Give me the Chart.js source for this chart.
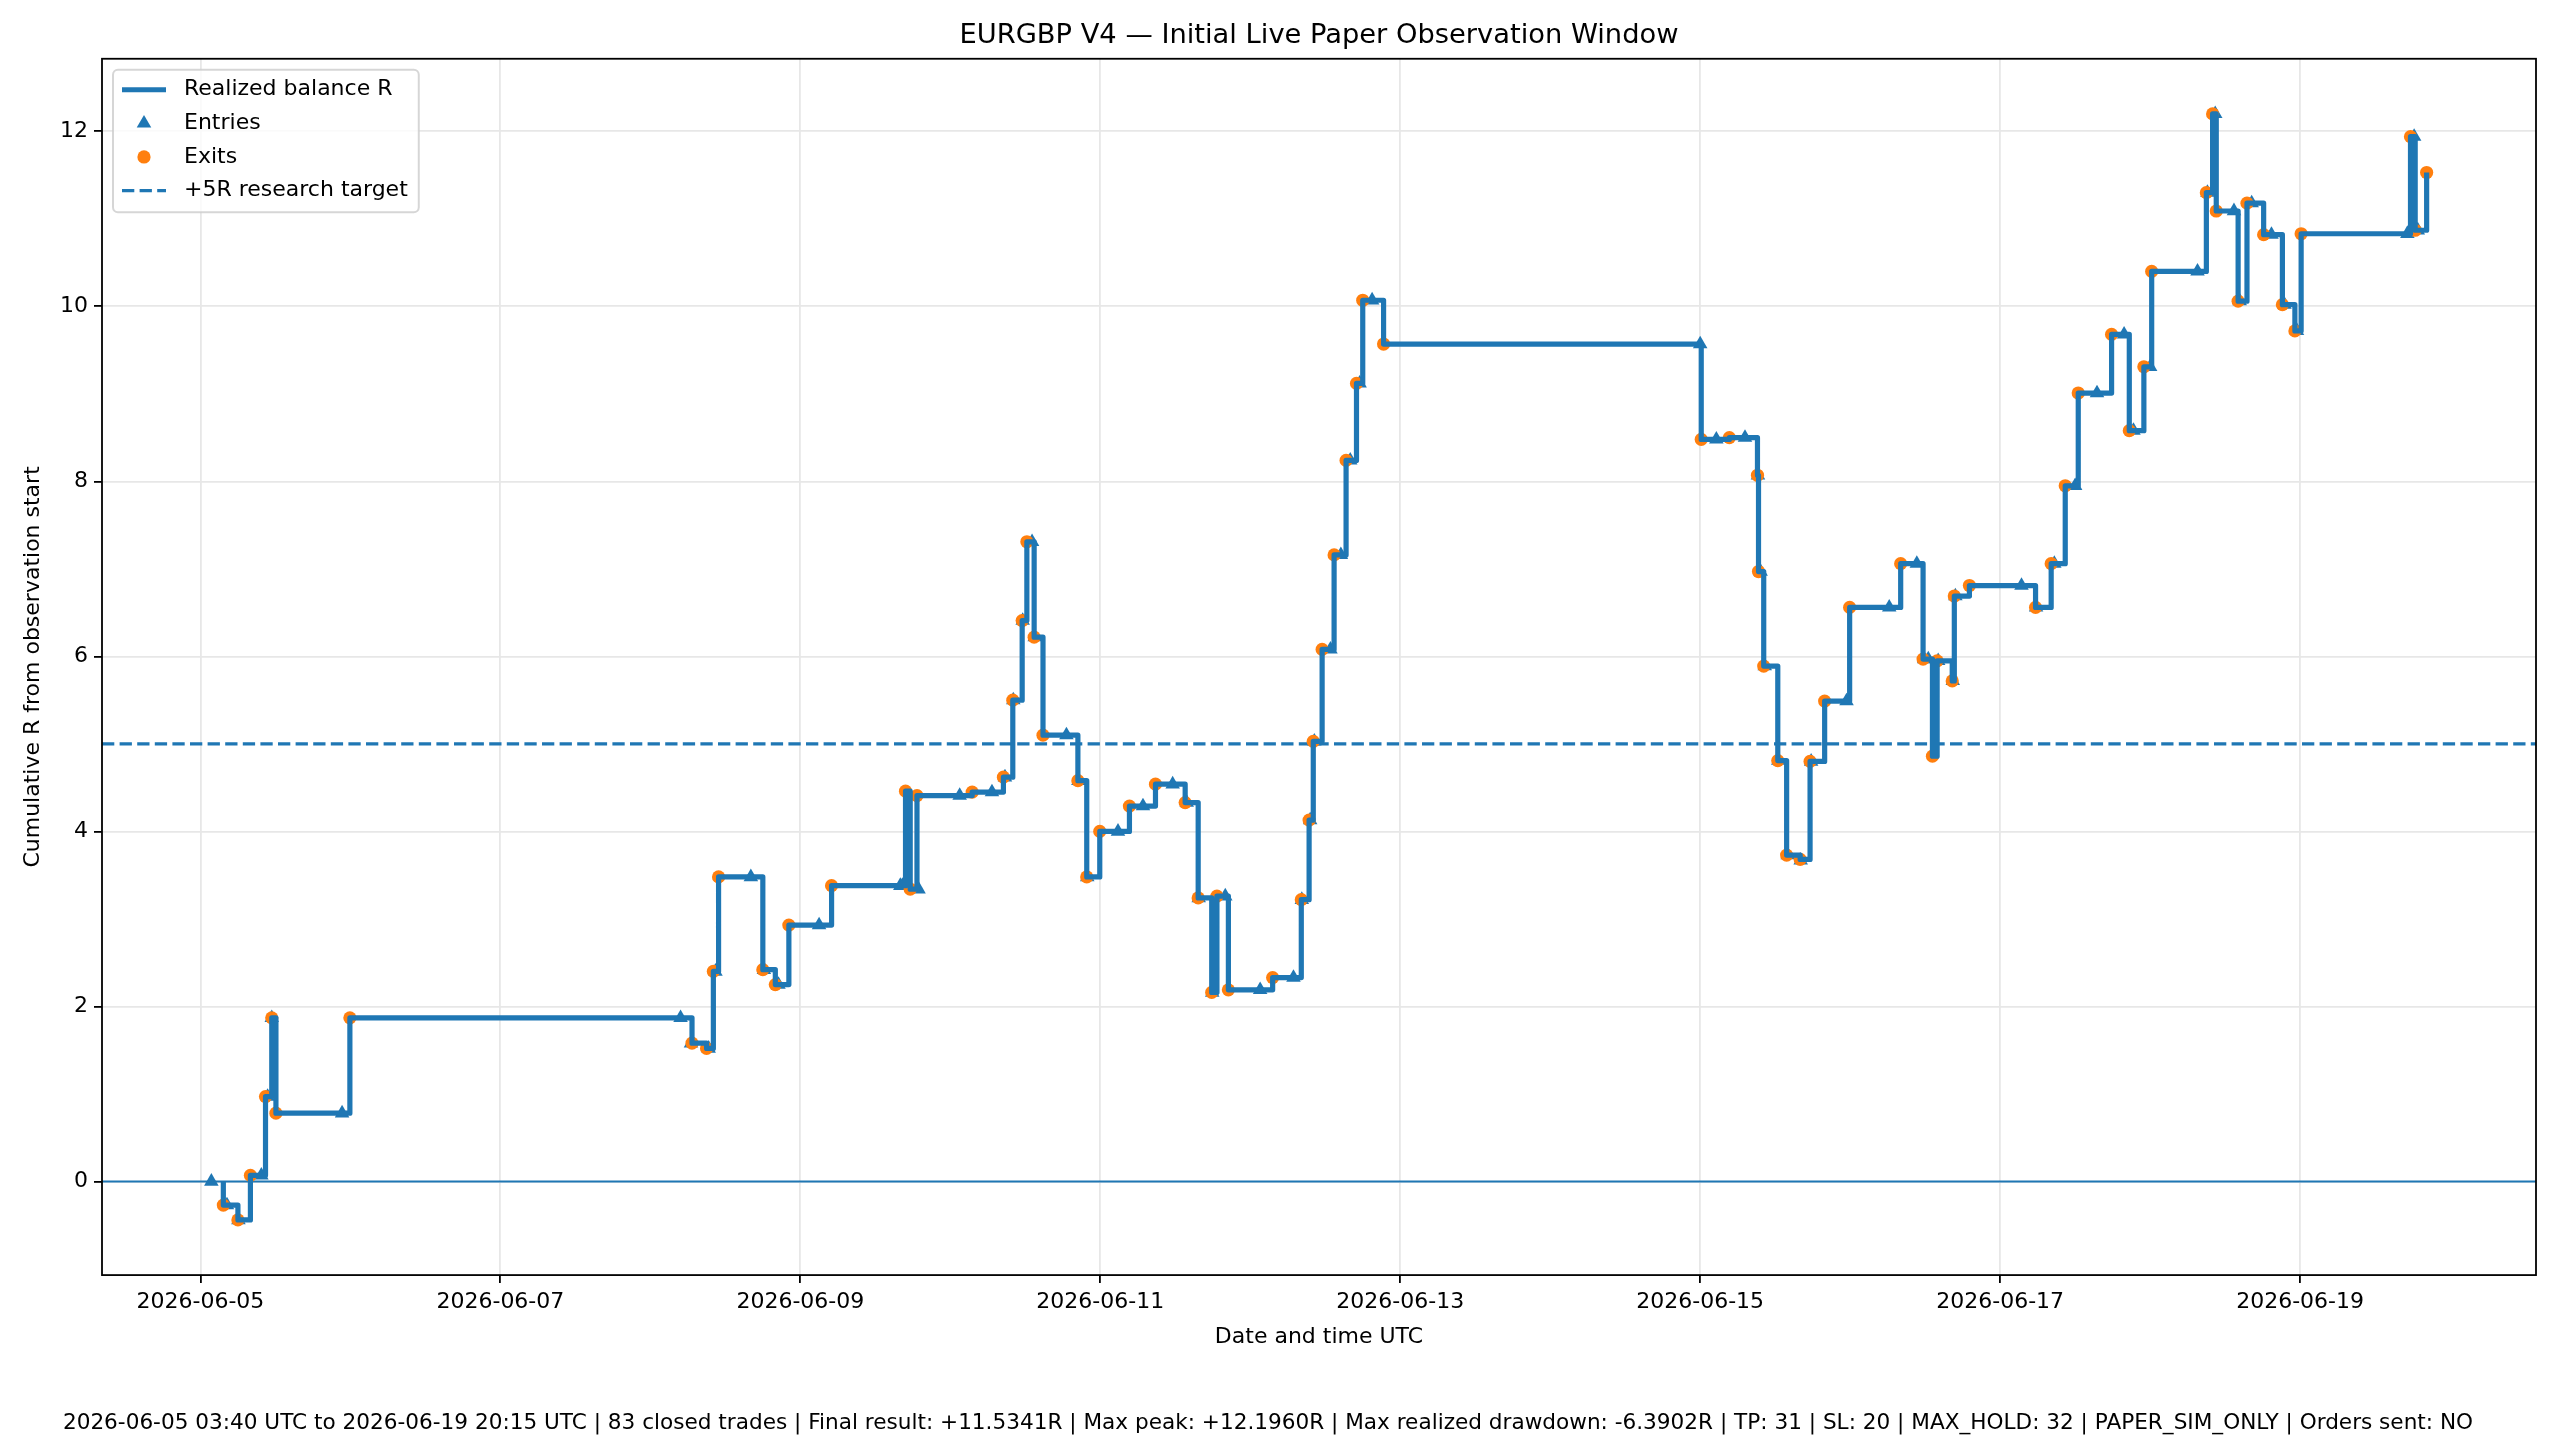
<!DOCTYPE html>
<html>
<head>
<meta charset="utf-8">
<title>EURGBP V4 — Initial Live Paper Observation Window</title>
<script src="https://cdn.jsdelivr.net/npm/chart.js@4.4.1/dist/chart.umd.min.js"></script>
<style>
  html, body { margin: 0; padding: 0; background: #fff; }
  #equity { display: block; }
</style>
</head>
<body>
<canvas id="equity" width="2560" height="1440"></canvas>
<script>
// trades, times in UTC (2026), values in cumulative R
const entryTimes = [
  '06-05 01:45', '06-05 04:15', '06-05 06:05', '06-05 09:45', '06-05 10:45', '06-05 11:25', '06-05 22:40',
  '06-08 04:50', '06-08 06:30', '06-08 09:20', '06-08 10:25', '06-08 16:05', '06-08 18:10', '06-08 20:30', '06-09 03:00',
  '06-09 16:00', '06-09 16:20', '06-09 18:55', '06-10 01:30', '06-10 06:40', '06-10 08:45', '06-10 10:05', '06-10 11:35',
  '06-10 13:05', '06-10 13:30', '06-10 18:35', '06-10 20:30', '06-10 21:55', '06-11 02:50', '06-11 06:50',
  '06-11 11:35', '06-11 13:50', '06-11 15:45', '06-11 17:55', '06-11 20:00', '06-12 01:35', '06-12 06:55', '06-12 08:15', '06-12 09:35',
  '06-12 10:15', '06-12 12:50', '06-12 14:30', '06-12 16:00', '06-12 17:30', '06-12 19:30',
  '06-15 00:00', '06-15 02:35', '06-15 07:10', '06-15 09:15', '06-15 09:40', '06-15 10:20', '06-15 12:30', '06-15 14:00', '06-15 16:05',
  '06-15 17:45', '06-15 23:25', '06-16 06:15', '06-16 10:40', '06-16 11:50', '06-16 12:30', '06-16 14:05', '06-16 16:25', '06-16 16:50',
  '06-17 03:25', '06-17 05:45', '06-17 08:40', '06-17 12:00', '06-17 15:30', '06-17 19:50', '06-17 21:20', '06-18 00:00',
  '06-18 07:35', '06-18 09:10', '06-18 10:25', '06-18 13:25', '06-18 14:20', '06-18 16:15', '06-18 19:25', '06-18 21:30', '06-18 23:30',
  '06-19 17:10', '06-19 18:15', '06-19 18:50'
];
const entryR = [
  0, -0.27, -0.44, 0.07, 0.97, 1.87, 0.78,
  1.87, 1.58, 1.52, 2.40, 3.48, 2.42, 2.25, 2.93,
  3.38, 3.38, 3.34, 4.41, 4.45, 4.62, 5.50, 6.41,
  7.31, 6.22, 5.10, 4.58, 3.48, 4.00, 4.29,
  4.54, 4.33, 3.24, 2.16, 3.26, 2.19, 2.33, 3.22, 4.13,
  5.03, 6.08, 7.16, 8.24, 9.12, 10.07,
  9.57, 8.48, 8.50, 8.07, 6.97, 5.89, 4.81, 3.73, 3.67,
  4.80, 5.49, 6.56, 7.06, 5.97, 5.97, 5.95, 5.72, 6.69,
  6.81, 6.56, 7.06, 7.95, 9.01, 9.68, 8.58, 9.31,
  10.40, 11.30, 12.20, 11.09, 10.06, 11.18, 10.82, 10.02, 9.72,
  10.83, 11.94, 10.87
];
const exitTimes = [
  '06-05 03:40', '06-05 06:00', '06-05 08:00', '06-05 10:25', '06-05 11:25', '06-05 12:05', '06-05 23:55',
  '06-08 06:40', '06-08 09:00', '06-08 10:05', '06-08 10:55', '06-08 18:00', '06-08 20:00', '06-08 22:10', '06-09 05:00',
  '06-09 16:50', '06-09 17:35', '06-09 18:40', '06-10 03:30', '06-10 08:30', '06-10 10:00', '06-10 11:30', '06-10 12:15',
  '06-10 13:25', '06-10 14:50', '06-10 20:25', '06-10 21:50', '06-10 23:55', '06-11 04:40', '06-11 08:50',
  '06-11 13:35', '06-11 15:40', '06-11 17:50', '06-11 18:40', '06-11 20:30', '06-12 03:35', '06-12 08:10', '06-12 09:25', '06-12 10:05',
  '06-12 11:30', '06-12 13:25', '06-12 15:20', '06-12 17:00', '06-12 18:00', '06-12 21:20',
  '06-15 00:10', '06-15 04:40', '06-15 09:10', '06-15 09:20', '06-15 10:10', '06-15 12:25', '06-15 13:50', '06-15 16:00', '06-15 17:35',
  '06-15 19:55', '06-15 23:55', '06-16 08:05', '06-16 11:40', '06-16 13:10', '06-16 13:55', '06-16 16:20', '06-16 16:40', '06-16 19:05',
  '06-17 05:40', '06-17 08:10', '06-17 10:25', '06-17 12:30', '06-17 17:50', '06-17 20:40', '06-17 23:00', '06-18 00:15',
  '06-18 09:00', '06-18 10:00', '06-18 10:35', '06-18 14:05', '06-18 15:30', '06-18 18:10', '06-18 21:10', '06-18 23:10', '06-19 00:10',
  '06-19 17:40', '06-19 18:25', '06-19 20:15'
];
const exitR = [
  -0.27, -0.44, 0.07, 0.97, 1.87, 0.78, 1.87,
  1.58, 1.52, 2.40, 3.48, 2.42, 2.25, 2.93, 3.38,
  4.46, 3.34, 4.41, 4.45, 4.62, 5.50, 6.41, 7.31,
  6.22, 5.10, 4.58, 3.48, 4.00, 4.29, 4.54,
  4.33, 3.24, 2.16, 3.26, 2.19, 2.33, 3.22, 4.13, 5.03,
  6.08, 7.16, 8.24, 9.12, 10.07, 9.57,
  8.48, 8.50, 8.07, 6.97, 5.89, 4.81, 3.73, 3.68, 4.80,
  5.49, 6.56, 7.06, 5.97, 4.86, 5.95, 5.72, 6.69, 6.81,
  6.56, 7.06, 7.95, 9.01, 9.68, 8.58, 9.31, 10.40,
  11.30, 12.20, 11.09, 10.06, 11.18, 10.82, 10.02, 9.72, 10.83,
  11.94, 10.87, 11.53
];

const tickLabels = ['2026-06-05', '2026-06-07', '2026-06-09', '2026-06-11', '2026-06-13', '2026-06-15', '2026-06-17', '2026-06-19'];
const yTicks = [0, 2, 4, 6, 8, 10, 12];
const targetR = 5;
const xLimits = ['06-04 08:15', '06-20 13:45'];
const yLimits = [-1.07, 12.83];

const titleText = 'EURGBP V4 — Initial Live Paper Observation Window';
const footerText = '2026-06-05 03:40 UTC to 2026-06-19 20:15 UTC | 83 closed trades | Final result: +11.5341R | Max peak: +12.1960R | Max realized drawdown: -6.3902R | TP: 31 | SL: 20 | MAX_HOLD: 32 | PAPER_SIM_ONLY | Orders sent: NO';

const BLUE = '#1f77b4';
const ORANGE = '#ff7f0e';

function toMs(s) {
  const [md, hm] = s.split(' ');
  const [mo, d] = md.split('-').map(Number);
  const [h, mi] = hm.split(':').map(Number);
  return Date.UTC(2026, mo - 1, d, h, mi);
}

const xMin = toMs(xLimits[0]);
const xMax = toMs(xLimits[1]);
const tickMs = tickLabels.map(l => Date.parse(l + 'T00:00:00Z'));

const entries = entryTimes.map((t, i) => ({x: toMs(t), y: entryR[i]}));
const exits = exitTimes.map((t, i) => ({x: toMs(t), y: exitR[i]}));
// balance starts flat at 0 and steps at each exit
const balance = [{x: toMs(exitTimes[0]), y: 0}].concat(exits);

Chart.defaults.font.family = '"DejaVu Sans", sans-serif';
Chart.defaults.font.size = 22;
Chart.defaults.color = '#000';

// axes box like matplotlib spines
const frame = {
  id: 'frame',
  afterDatasetsDraw(chart) {
    const {ctx, chartArea: a} = chart;
    ctx.save();
    ctx.strokeStyle = '#000';
    ctx.lineWidth = 1.8;
    ctx.strokeRect(a.left, a.top, a.right - a.left, a.bottom - a.top);
    ctx.restore();
  }
};

// legend drawn inside the upper left corner of the plot
const insideLegend = {
  id: 'insideLegend',
  afterDraw(chart) {
    const {ctx, chartArea: a} = chart;
    const items = chart.data.datasets.filter(d => !d.label.startsWith('_'));
    const pad = 9, handle = 44, gap = 18, row = 33.6;
    ctx.save();
    ctx.font = '22px "DejaVu Sans", sans-serif';
    const textW = Math.max(...items.map(d => ctx.measureText(d.label).width));
    const x0 = a.left + 11, y0 = a.top + 11;
    const w = pad + handle + gap + textW + pad + 2;
    const h = pad * 2 + row * items.length - 10;
    ctx.beginPath();
    ctx.roundRect(x0, y0, w, h, 5);
    ctx.fillStyle = 'rgba(255,255,255,0.8)';
    ctx.fill();
    ctx.strokeStyle = 'rgba(204,204,204,0.8)';
    ctx.lineWidth = 2;
    ctx.stroke();
    items.forEach((d, i) => {
      const cy = y0 + pad + 11 + i * row;
      const hx = x0 + pad;
      if (d.type === 'scatter') {
        ctx.fillStyle = d.backgroundColor;
        Chart.helpers.drawPoint(ctx, {pointStyle: d.pointStyle, radius: d.pointRadius, rotation: 0, borderWidth: 0}, hx + handle / 2, cy);
      } else {
        ctx.beginPath();
        ctx.setLineDash(d.borderDash || []);
        ctx.strokeStyle = d.borderColor;
        ctx.lineWidth = d.borderWidth;
        ctx.moveTo(hx, cy);
        ctx.lineTo(hx + handle, cy);
        ctx.stroke();
        ctx.setLineDash([]);
      }
      ctx.fillStyle = '#000';
      ctx.textBaseline = 'middle';
      ctx.textAlign = 'left';
      ctx.fillText(d.label, hx + handle + gap, cy);
    });
    ctx.restore();
  }
};

new Chart(document.getElementById('equity'), {
  type: 'line',
  data: {
    datasets: [{
      label: 'Realized balance R',
      data: balance,
      borderColor: BLUE,
      backgroundColor: BLUE,
      borderWidth: 5.2,
      borderJoinStyle: 'round',
      stepped: 'before',
      pointRadius: 0,
      fill: false,
      order: 1
    }, {
      type: 'scatter',
      label: 'Entries',
      data: entries,
      pointStyle: 'triangle',
      pointRadius: 8.4,
      backgroundColor: BLUE,
      borderWidth: 0,
      order: 3
    }, {
      type: 'scatter',
      label: 'Exits',
      data: exits,
      pointStyle: 'circle',
      pointRadius: 6.6,
      backgroundColor: ORANGE,
      borderWidth: 0,
      order: 2
    }, {
      label: '+5R research target',
      data: [{x: xMin, y: targetR}, {x: xMax, y: targetR}],
      borderColor: BLUE,
      borderWidth: 3.3,
      borderDash: [12.3, 5.3],
      pointRadius: 0,
      order: 4
    }, {
      label: '_zero',
      data: [{x: xMin, y: 0}, {x: xMax, y: 0}],
      borderColor: BLUE,
      borderWidth: 2,
      pointRadius: 0,
      order: 5
    }]
  },
  options: {
    responsive: false,
    devicePixelRatio: 1,
    animation: false,
    events: [],
    layout: { padding: { left: 0, right: 24, top: 0, bottom: 0 } },
    plugins: {
      legend: { display: false },
      tooltip: { enabled: false },
      title: {
        display: true,
        text: titleText,
        fullSize: false,
        font: { size: 27.3, weight: 'normal' },
        padding: { top: 20, bottom: 6 }
      },
      subtitle: {
        display: true,
        position: 'bottom',
        text: footerText,
        font: { size: 21.6 },
        padding: { top: 12, bottom: 4 }
      }
    },
    scales: {
      x: {
        type: 'linear',
        min: xMin,
        max: xMax,
        afterFit: s => { s.height = 123; },
        afterBuildTicks: s => { s.ticks = tickMs.map(v => ({value: v})); },
        ticks: {
          autoSkip: false,
          maxRotation: 0,
          padding: 6,
          callback: v => tickLabels[tickMs.indexOf(v)]
        },
        grid: { color: '#e7e7e7', lineWidth: 1.8, tickColor: '#000', tickLength: 8, tickWidth: 1.8 },
        border: { display: false },
        title: { display: true, text: 'Date and time UTC', font: { size: 22 }, padding: { top: 0, bottom: 48 } }
      },
      y: {
        min: yLimits[0],
        max: yLimits[1],
        afterFit: s => { s.width = 102; },
        afterBuildTicks: s => { s.ticks = yTicks.map(v => ({value: v})); },
        ticks: { padding: 6, callback: v => String(v) },
        grid: { color: '#e7e7e7', lineWidth: 1.8, tickColor: '#000', tickLength: 8, tickWidth: 1.8 },
        border: { display: false },
        title: { display: true, text: 'Cumulative R from observation start', font: { size: 22 }, padding: { top: 20, bottom: 0 } }
      }
    }
  },
  plugins: [frame, insideLegend]
});
</script>
</body>
</html>
